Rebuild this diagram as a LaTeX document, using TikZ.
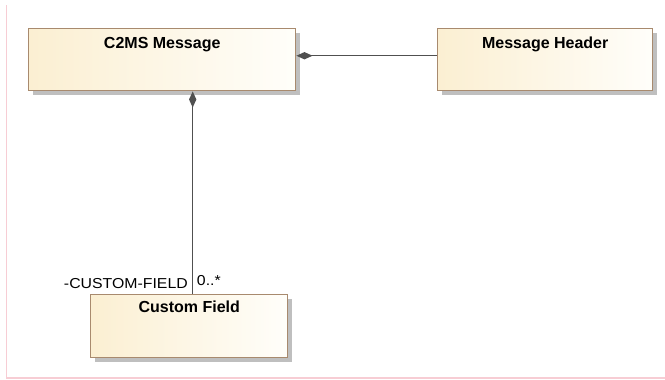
\documentclass[tikz,border=0pt]{standalone}
\usepackage{fontspec}
\setmainfont{Liberation Sans}
\newfontfamily\classfont{Liberation Sans}
\newfontfamily\rolefont[FakeStretch=1.1]{Liberation Sans}
\usetikzlibrary{arrows.meta,shadows}
\definecolor{boxedge}{HTML}{A88A6E}
\definecolor{boxleft}{HTML}{FBEFD2}
\definecolor{boxright}{HTML}{FFFEFA}
\definecolor{linkgray}{HTML}{505050}
\definecolor{framepink}{HTML}{F7CDD4}
\tikzset{
  classbox/.style={draw=boxedge, line width=1.1pt, rectangle, inner sep=0pt,
    left color=boxleft, right color=boxright,
    general shadow={fill=black!25, shadow xshift=3pt, shadow yshift=-3pt}},
  classname/.style={font=\classfont\bfseries\fontsize{12}{14}\selectfont, anchor=base, inner sep=0pt},
  rolelabel/.style={font=\rolefont\fontsize{10.8}{12}\selectfont, inner sep=0pt},
  composition/.style={draw=linkgray, line width=1pt,
    {Diamond[length=12pt,width=5.5pt,fill=linkgray]}-},
}
\begin{document}
\begin{tikzpicture}[x=0.75pt,y=-0.75pt]
  \useasboundingbox (0,0) rectangle (665,379);
  % page frame edges
  \draw[framepink, line width=1pt] (6.5,5) -- (6.5,378) -- (665,378);

  % classes
  \node[classbox, minimum width=200.25pt, minimum height=46.5pt, anchor=north west] (c2ms) at (28,28) {};
  \node[classbox, minimum width=161.25pt, minimum height=46.5pt, anchor=north west] (header) at (437,28) {};
  \node[classbox, minimum width=147.75pt, minimum height=47.25pt, anchor=north west] (cfield) at (90,294) {};

  \node[classname] (c2msname) at ([yshift=-15pt]c2ms.north) {C2MS Message};
  \node[classname] (headername) at ([yshift=-15pt]header.north) {Message Header};
  \node[classname] (cfieldname) at ([yshift=-13.5pt]cfield.north) {Custom Field};

  % compositions
  \draw[composition] ([yshift=3pt]c2ms.east) -- ([yshift=3pt]header.west);
  \coordinate (cfend) at ([xshift=2.6pt]cfield.north);
  \draw[composition] (c2ms.south -| cfend) -- (cfend);

  % association end labels
  \node[rolelabel, anchor=base east] (rolename) at ([xshift=-3.5pt,yshift=4pt]cfend) {-CUSTOM-FIELD};
  \node[rolelabel, anchor=base west] (multiplicity) at ([xshift=3pt,yshift=6.5pt]cfend) {0..*};
\end{tikzpicture}
\end{document}
